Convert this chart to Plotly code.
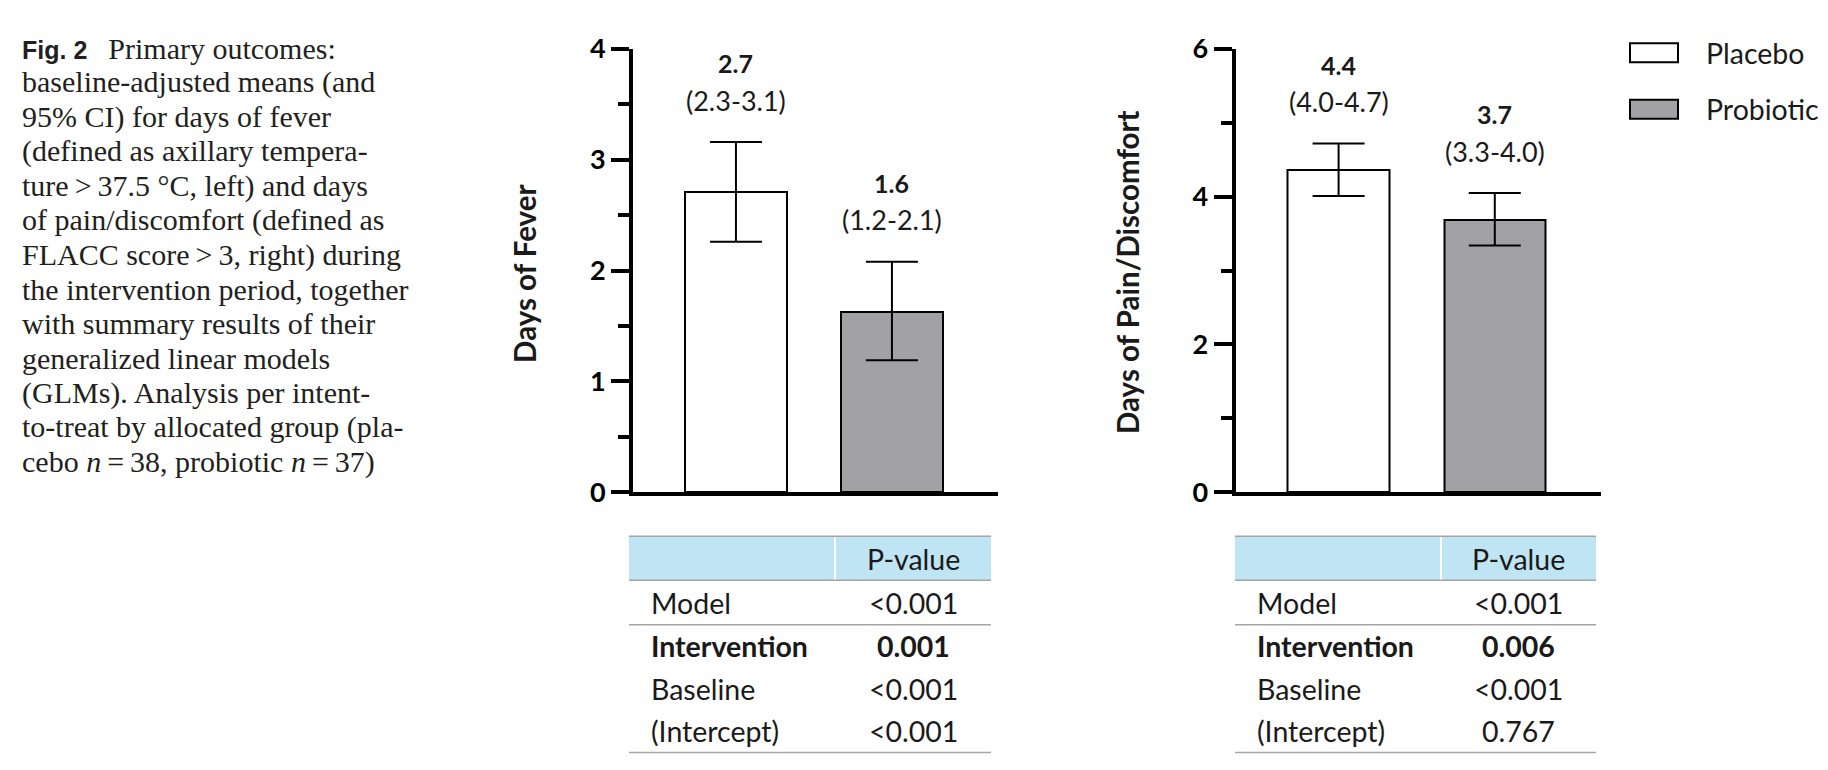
import plotly.graph_objects as go

W, H = 1828, 770


def px(x):
    return x / W


def py(y):
    return 1 - y / H


# ---------------- data ----------------
categories = ["Placebo", "Probiotic"]

fever_mean = [2.71, 1.63]
fever_low = [2.26, 1.19]
fever_high = [3.16, 2.08]
fever_mean_labels = ["2.7", "1.6"]
fever_ci_labels = ["(2.3-3.1)", "(1.2-2.1)"]
fever_yticks = [0, 1, 2, 3, 4]
fever_minor_ticks = [0.5, 1.5, 2.5, 3.5]

pain_mean = [4.36, 3.68]
pain_low = [4.01, 3.34]
pain_high = [4.72, 4.05]
pain_mean_labels = ["4.4", "3.7"]
pain_ci_labels = ["(4.0-4.7)", "(3.3-4.0)"]
pain_yticks = [0, 2, 4, 6]
pain_minor_ticks = [1, 3, 5]

table_header = "P-value"
table_terms = ["Model", "Intervention", "Baseline", "(Intercept)"]
fever_pvalues = ["<0.001", "0.001", "<0.001", "<0.001"]
pain_pvalues = ["<0.001", "0.006", "<0.001", "0.767"]
bold_term = "Intervention"

caption_lines = [
    '<b><span style="font-family:Liberation Sans;font-size:25px">Fig. 2</span></b>\u2002\u2009Primary outcomes:',
    "baseline-adjusted means (and",
    "95% CI) for days of fever",
    "(defined as axillary tempera-",
    "ture\u2009>\u200937.5 °C, left) and days",
    "of pain/discomfort (defined as",
    "FLACC score\u2009>\u20093, right) during",
    "the intervention period, together",
    "with summary results of their",
    "generalized linear models",
    "(GLMs). Analysis per intent-",
    "to-treat by allocated group (pla-",
    "cebo <i>n</i>\u2009=\u200938, probiotic <i>n</i>\u2009=\u200937)",
]

bar_colors = ["#ffffff", "#a2a2a6"]
SANS = "Lato"
TXT = "#1a1a1a"

# ---------------- figure ----------------
fig = go.Figure()

panels = [
    dict(xa="x", ya="y", mean=fever_mean, low=fever_low, high=fever_high,
         ml=fever_mean_labels, cl=fever_ci_labels),
    dict(xa="x2", ya="y2", mean=pain_mean, low=pain_low, high=pain_high,
         ml=pain_mean_labels, cl=pain_ci_labels),
]

annotations = []
shapes = []

for p in panels:
    fig.add_trace(go.Bar(
        x=categories, y=p["mean"], xaxis=p["xa"], yaxis=p["ya"],
        width=0.65,
        marker=dict(color=bar_colors, line=dict(color="black", width=2)),
        error_y=dict(type="data", symmetric=False,
                     array=[h - m for h, m in zip(p["high"], p["mean"])],
                     arrayminus=[m - l for m, l in zip(p["mean"], p["low"])],
                     color="black", thickness=2, width=26),
        showlegend=False, hoverinfo="skip",
    ))
    for c, h, ml, cl in zip(categories, p["high"], p["ml"], p["cl"]):
        annotations.append(dict(x=c, y=h, xref=p["xa"], yref=p["ya"], text=f"<b>{ml}</b>",
                                showarrow=False, yshift=79, yanchor="middle",
                                font=dict(family=SANS, size=25, color=TXT)))
        annotations.append(dict(x=c, y=h, xref=p["xa"], yref=p["ya"], text=cl,
                                showarrow=False, yshift=42, yanchor="middle",
                                font=dict(family=SANS, size=27, color=TXT)))

xcommon = dict(range=[-0.66, 1.68], showline=True, linewidth=4, linecolor="black",
               showticklabels=False, ticks="", showgrid=False, zeroline=False,
               fixedrange=True)
ycommon = dict(showline=True, linewidth=4, linecolor="black", ticks="outside",
               ticklen=18, tickwidth=4, tickcolor="black", showgrid=False,
               zeroline=False, tickfont=dict(family=SANS, size=27, color="black",
                                             weight="bold"))

fig.update_layout(
    width=W, height=H,
    margin=dict(l=0, r=0, t=0, b=0),
    paper_bgcolor="white", plot_bgcolor="white",
    xaxis=dict(domain=[px(625), px(990)], anchor="y", **xcommon),
    yaxis=dict(domain=[py(487), py(24)], anchor="x", range=[0, 4],
               tickmode="array", tickvals=fever_yticks,
               minor=dict(tickmode="array", tickvals=fever_minor_ticks, ticks="outside",
                          ticklen=11, tickwidth=4, tickcolor="black"),
               **ycommon),
    xaxis2=dict(domain=[px(1227.5), px(1593)], anchor="y2", **xcommon),
    yaxis2=dict(domain=[py(487), py(24)], anchor="x2", range=[0, 6],
                tickmode="array", tickvals=pain_yticks,
                minor=dict(tickmode="array", tickvals=pain_minor_ticks, ticks="outside",
                           ticklen=11, tickwidth=4, tickcolor="black"),
                **ycommon),
    bargap=0,
)

# axis titles
annotations.append(dict(x=px(517), y=py(259), xref="paper", yref="paper",
                        text="<b>Days of Fever</b>", textangle=-90, showarrow=False,
                        xanchor="center", yanchor="middle",
                        font=dict(family=SANS, size=29.5, color=TXT)))
annotations.append(dict(x=px(1120), y=py(257), xref="paper", yref="paper",
                        text="<b>Days of Pain/Discomfort</b>", textangle=-90, showarrow=False,
                        xanchor="center", yanchor="middle",
                        font=dict(family=SANS, size=29.5, color=TXT)))

# legend (drawn manually to reproduce the wide swatches)
leg_rows = [28, 87]
for name, col, yc in zip(categories, bar_colors, leg_rows):
    shapes.append(dict(type="rect", xref="paper", yref="paper",
                       x0=px(1622), x1=px(1670), y0=py(yc - 10), y1=py(yc + 10),
                       fillcolor=col, line=dict(color="black", width=2)))
    annotations.append(dict(x=px(1696), y=py(yc), xref="paper", yref="paper",
                            text=name, showarrow=False, xanchor="left", yanchor="middle",
                            font=dict(family=SANS, size=28.5, color=TXT)))

# tables
LINE = "#a6a6a6"
HEAD_FILL = "#bfe4f4"
table_top, head_bottom = 533, 579
row_centers = [603, 648, 693, 737]
bottom_line = 759
for left, divider, right, pvals in [(621, 827, 983, fever_pvalues),
                                     (1227, 1433, 1588, pain_pvalues)]:
    shapes.append(dict(type="rect", xref="paper", yref="paper",
                       x0=px(left), x1=px(right), y0=py(head_bottom), y1=py(table_top),
                       fillcolor=HEAD_FILL, line=dict(width=0), layer="below"))
    shapes.append(dict(type="line", xref="paper", yref="paper",
                       x0=px(divider), x1=px(divider), y0=py(head_bottom), y1=py(table_top),
                       line=dict(color="white", width=2)))
    for yl in [table_top, head_bottom, (row_centers[0] + row_centers[1]) / 2, bottom_line]:
        shapes.append(dict(type="line", xref="paper", yref="paper",
                           x0=px(left), x1=px(right), y0=py(yl), y1=py(yl),
                           line=dict(color=LINE, width=1.5)))
    vx = (divider + right) / 2
    annotations.append(dict(x=px(vx), y=py((table_top + head_bottom) / 2 + 1),
                            xref="paper", yref="paper", text=table_header,
                            showarrow=False, xanchor="center", yanchor="middle",
                            font=dict(family=SANS, size=28.5, color=TXT)))
    for term, pv, yc in zip(table_terms, pvals, row_centers):
        b0, b1 = ("<b>", "</b>") if term == bold_term else ("", "")
        annotations.append(dict(x=px(left + 20), y=py(yc), xref="paper", yref="paper",
                                text=f"{b0}{term}{b1}", showarrow=False,
                                xanchor="left", yanchor="middle",
                                font=dict(family=SANS, size=28.5, color=TXT)))
        annotations.append(dict(x=px(vx), y=py(yc), xref="paper", yref="paper",
                                text=f"{b0}{pv}{b1}", showarrow=False,
                                xanchor="center", yanchor="middle",
                                font=dict(family=SANS, size=28.5, color=TXT)))

# caption
for i, line in enumerate(caption_lines):
    annotations.append(dict(x=px(12), y=py(23 + 36.0 * i), xref="paper", yref="paper",
                            text=line, showarrow=False, xanchor="left", yanchor="middle",
                            align="left",
                            font=dict(family="Liberation Serif", size=30, color="#231f20")))

fig.update_layout(annotations=annotations, shapes=shapes)
fig.write_html("out.html")
